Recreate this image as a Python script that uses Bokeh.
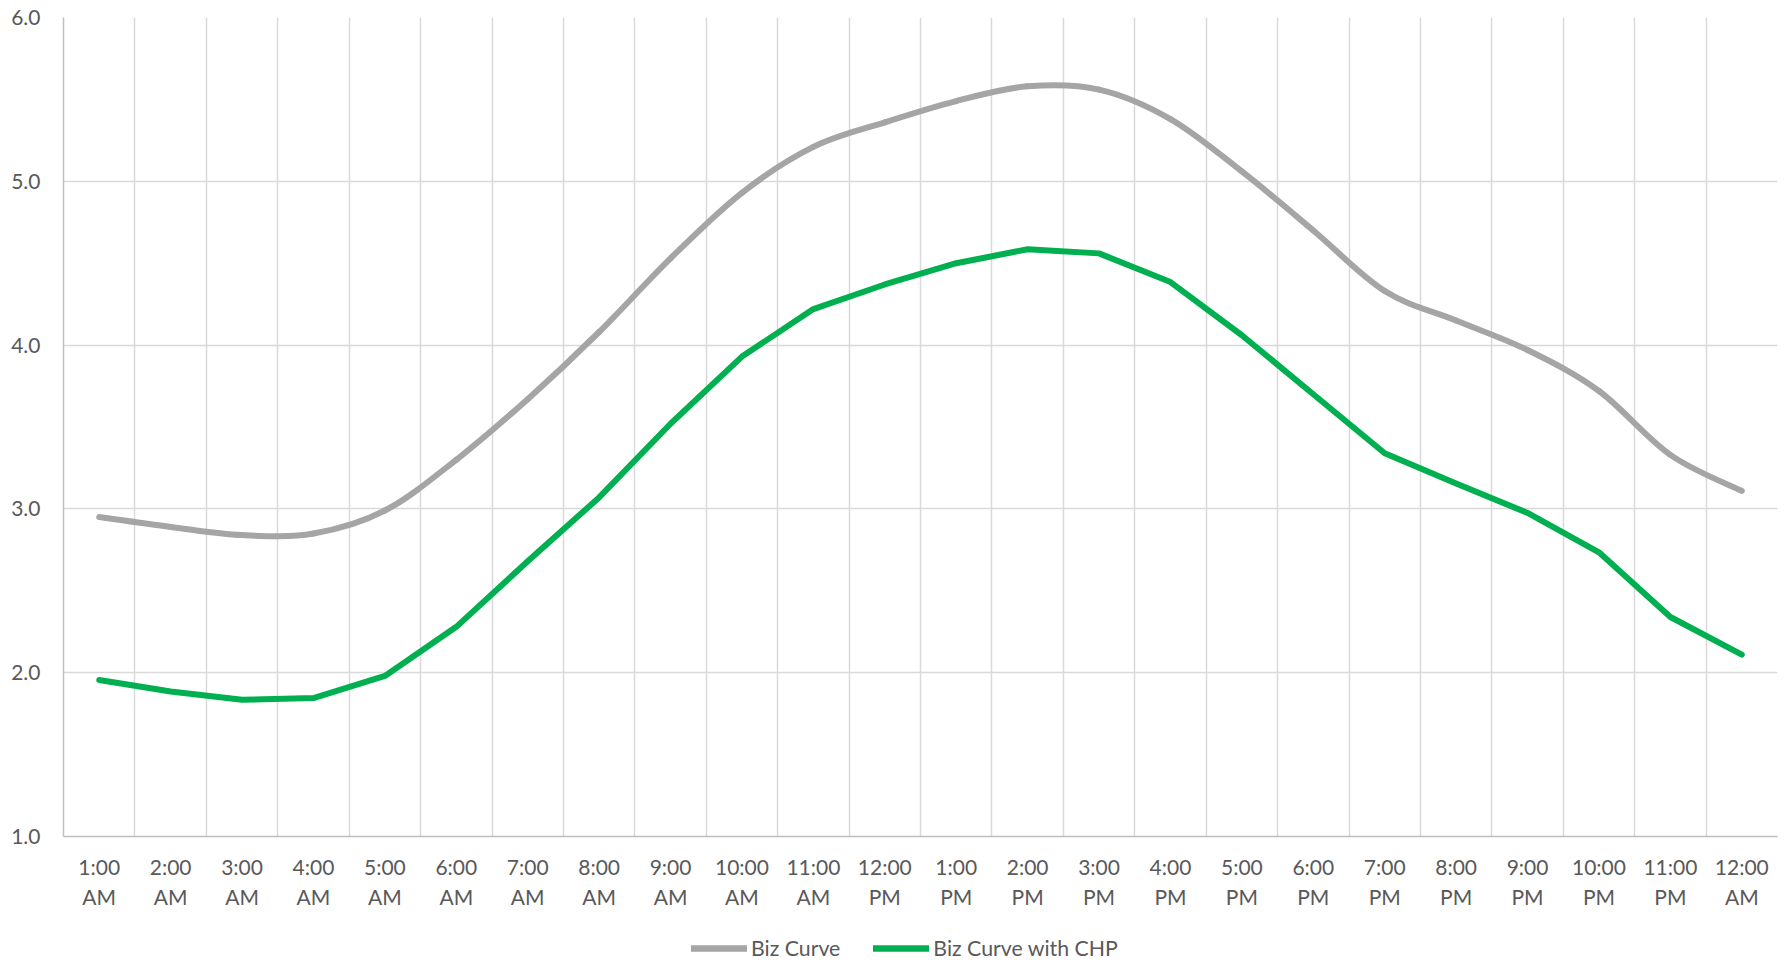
from bokeh.plotting import figure
from bokeh.layouts import column
from bokeh.models import (Range1d, FixedTicker, NumeralTickFormatter, Legend, LegendItem,
                          ColumnDataSource)
from bokeh.embed import file_html
from bokeh.resources import INLINE

hours = ["1:00\nAM", "2:00\nAM", "3:00\nAM", "4:00\nAM", "5:00\nAM", "6:00\nAM",
         "7:00\nAM", "8:00\nAM", "9:00\nAM", "10:00\nAM", "11:00\nAM", "12:00\nPM",
         "1:00\nPM", "2:00\nPM", "3:00\nPM", "4:00\nPM", "5:00\nPM", "6:00\nPM",
         "7:00\nPM", "8:00\nPM", "9:00\nPM", "10:00\nPM", "11:00\nPM", "12:00\nAM"]
biz_curve = [2.95, 2.89, 2.84, 2.85, 2.99, 3.30, 3.67, 4.08, 4.53, 4.93, 5.21, 5.36,
             5.49, 5.58, 5.56, 5.38, 5.06, 4.70, 4.33, 4.15, 3.97, 3.72, 3.33, 3.11]
biz_chp = [1.955, 1.885, 1.835, 1.845, 1.98, 2.28, 2.68, 3.07, 3.52, 3.93, 4.22, 4.37,
           4.50, 4.585, 4.56, 4.385, 4.06, 3.70, 3.34, 3.155, 2.975, 2.735, 2.34, 2.11]
y_ticks = [1.0, 2.0, 3.0, 4.0, 5.0, 6.0]
series_names = ["Biz Curve", "Biz Curve with CHP"]

FONT = "Lato"
TXT = "#595959"
GRID = "#d9d9d9"
GRAY = "#a5a5a5"
GREEN = "#00b050"

n = len(hours)
xs = list(range(1, n + 1))

MAIN_H = 916
p = figure(width=1785, height=MAIN_H, output_backend="svg", toolbar_location=None,
           x_range=Range1d(0.5, n + 0.5), y_range=Range1d(1.0, 6.0),
           min_border_left=63, min_border_right=8, min_border_top=17,
           min_border_bottom=MAIN_H - 836)
p.outline_line_color = None
p.background_fill_color = "white"
p.border_fill_color = "white"

# grid
p.xgrid.ticker = FixedTicker(ticks=[i + 0.5 for i in range(0, n + 1)])
p.ygrid.ticker = FixedTicker(ticks=y_ticks)
for g in (p.xgrid, p.ygrid):
    g.grid_line_color = GRID
    g.grid_line_width = 1.5

# axes
p.xaxis.ticker = FixedTicker(ticks=xs)
p.xaxis.major_label_overrides = {x: h for x, h in zip(xs, hours)}
p.yaxis.ticker = FixedTicker(ticks=y_ticks)
p.yaxis.formatter = NumeralTickFormatter(format="0.0")
for ax in (p.xaxis, p.yaxis):
    ax.axis_line_color = "#bfbfbf"
    ax.axis_line_width = 1.5
    ax.major_tick_line_color = None
    ax.minor_tick_line_color = None
    ax.major_label_text_font = FONT
    ax.major_label_text_font_size = "21px"
    ax.major_label_text_color = TXT
p.xaxis.major_label_standoff = 11
p.xaxis.major_label_text_line_height = 1.2
p.yaxis.major_label_standoff = 17

# smoothed gray curve (Catmull-Rom style Bezier, like Excel's smoothed line)
def ctrl(vals):
    pts = list(zip(xs, vals))
    x0, y0, x1, y1, cx0, cy0, cx1, cy1 = ([] for _ in range(8))
    for i in range(len(pts) - 1):
        pm = pts[i - 1] if i > 0 else pts[i]
        pa = pts[i]
        pb = pts[i + 1]
        pn = pts[i + 2] if i + 2 < len(pts) else pts[i + 1]
        x0.append(pa[0]); y0.append(pa[1]); x1.append(pb[0]); y1.append(pb[1])
        cx0.append(pa[0] + (pb[0] - pm[0]) / 6.0); cy0.append(pa[1] + (pb[1] - pm[1]) / 6.0)
        cx1.append(pb[0] - (pn[0] - pa[0]) / 6.0); cy1.append(pb[1] - (pn[1] - pa[1]) / 6.0)
    return dict(x0=x0, y0=y0, x1=x1, y1=y1, cx0=cx0, cy0=cy0, cx1=cx1, cy1=cy1)

src_gray = ColumnDataSource(ctrl(biz_curve))
p.bezier(x0="x0", y0="y0", x1="x1", y1="y1", cx0="cx0", cy0="cy0",
         cx1="cx1", cy1="cy1", source=src_gray, line_color=GRAY,
         line_width=6, line_cap="round")
p.line(xs, biz_chp, line_color=GREEN, line_width=6, line_cap="round", line_join="round")

# legend strip below the chart
LEG_H = 962 - MAIN_H
q = figure(width=1785, height=LEG_H, output_backend="svg", toolbar_location=None,
           x_range=Range1d(0, 1785), y_range=Range1d(0, LEG_H),
           min_border=0, x_axis_location=None, y_axis_location=None)
q.outline_line_color = None
q.grid.visible = False
nan = float("nan")
lg_gray = q.line([nan], [nan], line_color=GRAY, line_width=6.5, line_cap="round")
lg_green = q.line([nan], [nan], line_color=GREEN, line_width=6.5, line_cap="round")
legend = Legend(items=[LegendItem(label=series_names[0], renderers=[lg_gray]),
                       LegendItem(label=series_names[1], renderers=[lg_green])],
                orientation="horizontal", location=(628, 1),
                glyph_width=56, glyph_height=20, label_height=20,
                label_standoff=4, spacing=33,
                padding=0, margin=0, border_line_color=None, background_fill_alpha=0,
                label_text_font=FONT, label_text_font_size="21.3px", label_text_color=TXT)
q.add_layout(legend)

open("out.html", "w").write(file_html(column(p, q, spacing=0), INLINE))
